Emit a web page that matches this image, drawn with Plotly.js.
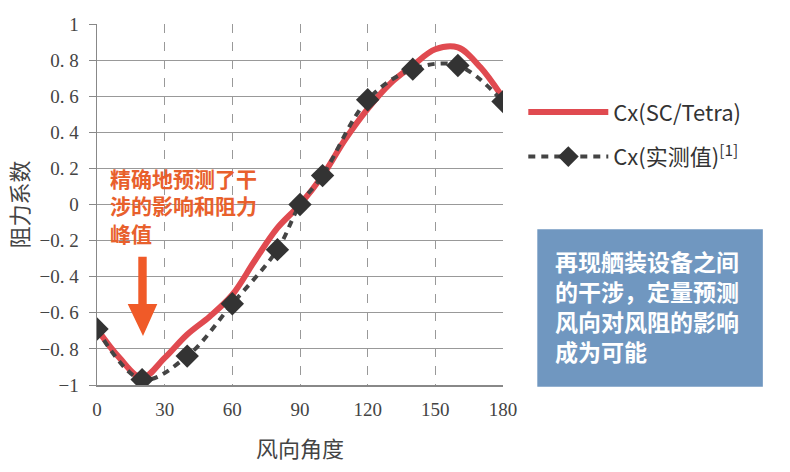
<!DOCTYPE html>
<html>
<head>
<meta charset="utf-8">
<script src="https://cdn.plot.ly/plotly-3.0.1.min.js"></script>
<style>
  html, body { margin: 0; padding: 0; background: #fff; }
  #chart { width: 790px; height: 472px; }
</style>
</head>
<body>
<div id="chart"></div>
<script>
// wind angle (deg) for the simulated curve
const simAngles = [0, 10, 20, 30, 40, 50, 60, 70, 80, 90, 100, 110, 120, 130, 140, 150, 160, 170, 180];
const simCx = [-0.69, -0.85, -0.96, -0.85, -0.72, -0.62, -0.50, -0.31, -0.13, 0.0, 0.16, 0.36, 0.53, 0.67, 0.77, 0.86, 0.87, 0.76, 0.59];

// measured points
const expAngles = [0, 20, 40, 60, 80, 90, 100, 120, 140, 160, 180];
const expCx = [-0.69, -0.97, -0.84, -0.55, -0.25, 0.0, 0.16, 0.58, 0.75, 0.77, 0.57];

const xTicks = [0, 30, 60, 90, 120, 150, 180];
const yTicks = [-1, -0.8, -0.6, -0.4, -0.2, 0, 0.2, 0.4, 0.6, 0.8, 1];
const yTickText = ['−1', '−0. 8', '−0. 6', '−0. 4', '−0. 2', '0', '0. 2', '0. 4', '0. 6', '0. 8', '1'];

const seriesNames = ['Cx(SC/Tetra)', 'Cx(实测值)<sup>[1]</sup>'];
const noteText = '精确地预测了干<br>涉的影响和阻力<br>峰值';
const boxText = '再现舾装设备之间<br>的干涉，定量预测<br>风向对风阻的影响<br>成为可能';

const serif = '"Liberation Serif", "DejaVu Serif", serif';
const sans = '"Noto Sans CJK SC", "Noto Sans", sans-serif';

const traces = [
    {
        x: simAngles, y: simCx, name: seriesNames[0],
        type: 'scatter', mode: 'lines',
        line: { color: '#e04a50', width: 6, shape: 'spline', smoothing: 1 },
        legendgroup: 'a'
    },
    {
        x: expAngles, y: expCx, name: seriesNames[1],
        type: 'scatter', mode: 'lines+markers',
        line: { color: '#444444', width: 4, dash: '7px,6px', shape: 'spline', smoothing: 1 },
        marker: { symbol: 'diamond', size: 18, color: '#333333' },
        legendgroup: 'b'
    }
];

const layout = {
    width: 790, height: 472,
    margin: { l: 97, r: 287, t: 24, b: 87 },
    paper_bgcolor: '#fff', plot_bgcolor: '#fff',
    showlegend: true,
    legend: {
        x: 1.05, y: 0.814, xanchor: 'left', yanchor: 'top',
        font: { family: sans, size: 22, color: '#333' },
        traceorder: 'grouped', tracegroupgap: 13,
        itemwidth: 80, bgcolor: 'rgba(0,0,0,0)'
    },
    xaxis: {
        range: [0, 180], tickvals: xTicks, ticks: '',
        showgrid: true, gridcolor: '#999', griddash: 'dash', gridwidth: 1,
        showline: true, linecolor: '#888', linewidth: 1.5,
        zeroline: false, fixedrange: true,
        ticklabelstandoff: 7,
        tickfont: { family: serif, size: 19, color: '#444' },
        title: { text: '风向角度', font: { family: sans, size: 22, color: '#444' }, standoff: 22 }
    },
    yaxis: {
        range: [-1, 1], tickvals: yTicks, ticktext: yTickText,
        ticks: 'outside', ticklen: 7, tickcolor: '#888',
        showgrid: true, gridcolor: '#999', gridwidth: 1,
        showline: true, linecolor: '#888', linewidth: 1.5,
        zeroline: false, fixedrange: true,
        ticklabelstandoff: 6,
        tickfont: { family: serif, size: 19, color: '#444' },
        title: { text: '阻力系数', font: { family: sans, size: 22, color: '#444' }, standoff: 5 }
    },
    shapes: [
        // orange arrow
        {
            type: 'path', xref: 'paper', yref: 'paper',
            path: 'M0.1017,0.3554 L0.1224,0.3554 L0.1224,0.2244 L0.1485,0.2244 L0.1133,0.1357 L0.0756,0.2244 L0.1017,0.2244 Z',
            fillcolor: '#f05a28', line: { width: 0 }
        },
        // blue note box
        {
            type: 'rect', xref: 'paper', yref: 'paper',
            x0: 1.0845, x1: 1.640, y0: -0.005, y1: 0.4313,
            fillcolor: '#7097c0', line: { width: 0 }
        }
    ],
    annotations: [
        {
            xref: 'paper', yref: 'paper', x: 0.027, y: 0.496,
            xanchor: 'left', yanchor: 'middle', align: 'left',
            text: '<b>' + noteText + '</b>', showarrow: false,
            font: { family: sans, size: 21, color: '#e8602c' }
        },
        {
            xref: 'paper', yref: 'paper', x: 1.123, y: 0.219,
            xanchor: 'left', yanchor: 'middle', align: 'left',
            text: '<b>' + boxText + '</b>', showarrow: false,
            font: { family: sans, size: 23, color: '#ffffff' }
        }
    ]
};

Plotly.newPlot('chart', traces, layout, { displayModeBar: false, staticPlot: true });
</script>
</body>
</html>
